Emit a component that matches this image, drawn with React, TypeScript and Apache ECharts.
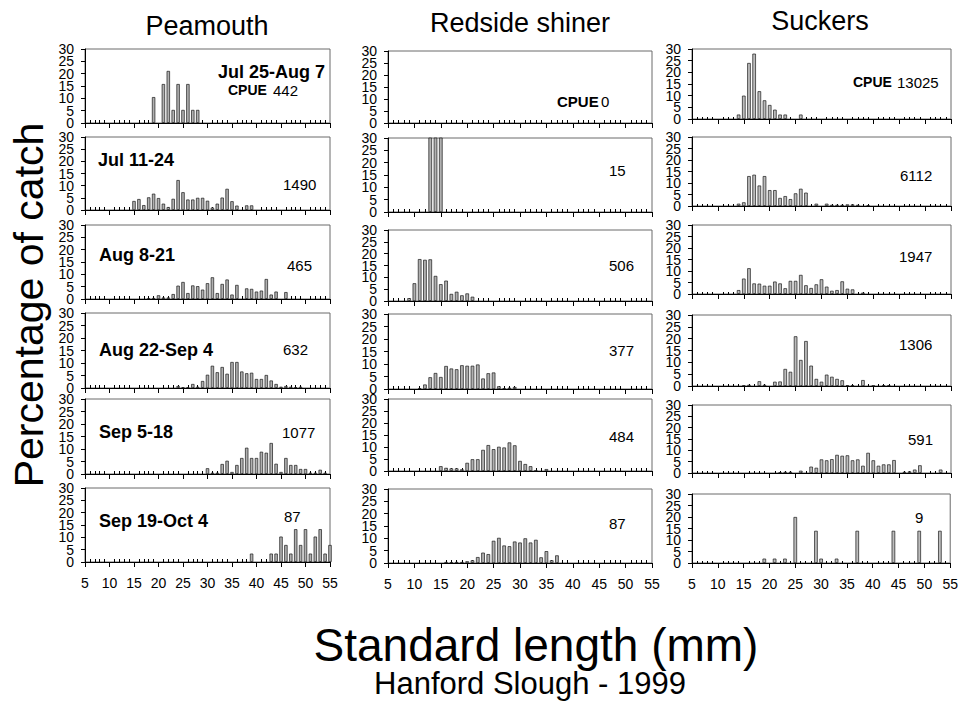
import React, { useEffect, useRef } from "react";
import * as echarts from "echarts";

// ---------------- DATA ----------------
const speciesTitles = ["Peamouth", "Redside shiner", "Suckers"];
const periodLabels = ["Jul 25-Aug 7", "Jul 11-24", "Aug 8-21", "Aug 22-Sep 4", "Sep 5-18", "Sep 19-Oct 4"];
const peamouthCPUE = ["442", "1490", "465", "632", "1077", "87"];
const redsideCPUE = ["0", "15", "506", "377", "484", "87"];
const suckersCPUE = ["13025", "6112", "1947", "1306", "591", "9"];
const lengthCategories = ["5","6","7","8","9","10","11","12","13","14","15","16","17","18","19","20","21","22","23","24","25","26","27","28","29","30","31","32","33","34","35","36","37","38","39","40","41","42","43","44","45","46","47","48","49","50","51","52","53","54","55"];
const yTickValues = [0, 5, 10, 15, 20, 25, 30];
const yLabelsEven = [0, 10, 20, 30];
const yLabelsOdd = [5, 15, 25];

// [standard length (mm), percentage of catch]
const peaJul25 = [[19,10.5],[21,15.8],[22,21.1],[23,5.3],[24,15.8],[25,5.3],[26,15.8],[27,5.3],[28,5.3]];
const peaJul11 = [[15,3.7],[16,4.5],[17,2.0],[18,5.2],[19,6.7],[20,4.9],[21,2.6],[22,1.2],[23,4.6],[24,12.3],[25,7.3],[26,4.3],[27,4.3],[28,5.0],[29,5.0],[30,3.8],[31,1.0],[32,2.6],[33,5.1],[34,8.7],[35,3.6],[36,1.8],[38,1.9],[39,1.9]];
const peaAug8 = [[18,0.2],[19,0.4],[20,1.5],[21,0.6],[22,0.6],[23,2.0],[24,5.4],[25,6.9],[26,2.4],[27,5.5],[28,5.2],[29,3.8],[30,6.4],[31,8.8],[32,2.4],[33,6.1],[34,7.9],[35,1.8],[36,5.7],[38,4.3],[39,4.1],[40,3.0],[41,3.4],[42,8.1],[43,1.8],[44,3.0],[46,2.8]];
const peaAug22 = [[24,0.8],[25,0.3],[26,0.3],[27,1.6],[28,0.5],[29,2.8],[30,5.3],[31,8.9],[32,6.3],[33,8.4],[34,5.7],[35,10.4],[36,10.4],[37,6.6],[38,5.9],[39,6.1],[40,3.6],[41,3.6],[42,5.2],[43,3.0],[44,1.6],[45,0.5],[46,0.8],[47,0.5],[48,0.3],[49,0.5]];
const peaSep5 = [[30,2.3],[31,0.5],[32,0.5],[33,4.0],[34,5.3],[35,0.8],[36,3.6],[37,6.4],[38,10.5],[39,6.4],[40,6.4],[41,8.9],[42,8.5],[43,12.4],[44,4.1],[45,0.8],[46,6.4],[47,3.6],[48,3.6],[49,2.0],[50,2.0],[51,0.5],[52,0.5],[53,1.7],[54,0.5]];
const peaSep19 = [[39,3.4],[43,3.4],[44,3.4],[45,10.3],[46,6.9],[47,3.4],[48,13.3],[49,6.9],[50,13.3],[51,3.4],[52,10.3],[53,13.3],[54,3.4],[55,6.9]];

const rsJul25: number[][] = [];
const rsJul11 = [[13,33.3],[14,33.3],[15,33.3]];
const rsAug8 = [[9,1.2],[10,7.5],[11,17.7],[12,17.4],[13,17.6],[14,10.6],[15,7.1],[16,8.6],[17,3.0],[18,3.9],[19,2.4],[20,3.2],[21,1.8]];
const rsAug22 = [[11,0.3],[12,1.8],[13,4.7],[14,6.4],[15,4.8],[16,9.2],[17,8.2],[18,7.9],[19,9.5],[20,9.3],[21,9.3],[22,9.8],[23,4.2],[24,6.3],[25,6.6],[26,1.1],[27,0.3],[28,0.5],[29,0.8]];
const rsSep5 = [[15,2.0],[16,1.3],[17,1.1],[18,1.1],[19,0.7],[20,3.4],[21,4.9],[22,4.9],[23,8.8],[24,10.8],[25,9.1],[26,10.1],[27,9.8],[28,11.9],[29,10.7],[30,4.2],[31,2.9],[32,2.0],[33,0.2],[35,0.8]];
const rsSep19 = [[16,0.4],[17,0.3],[18,0.4],[19,0.4],[20,0.7],[21,1.1],[22,2.4],[23,4.2],[24,3.6],[25,9.0],[26,10.2],[27,7.1],[28,6.8],[29,8.7],[30,8.3],[31,10.0],[32,8.3],[33,9.4],[34,2.3],[35,4.8],[36,1.1],[37,3.1]];

const skJul25 = [[14,1.9],[15,10.0],[16,24.0],[17,28.0],[18,11.9],[19,8.0],[20,6.0],[21,4.0],[22,1.9],[23,1.9],[26,1.9]];
const skJul11 = [[14,1.0],[15,1.6],[16,13.0],[17,13.6],[18,8.9],[19,13.0],[20,6.9],[21,6.9],[22,3.5],[23,4.3],[24,3.0],[25,5.5],[26,7.5],[27,5.8],[29,1.0],[31,1.0],[32,0.5],[33,0.5],[34,0.5],[35,0.7],[36,0.7],[37,0.5],[39,0.3]];
const skAug8 = [[14,1.7],[15,6.7],[16,11.2],[17,4.6],[18,4.5],[19,3.6],[20,3.6],[21,5.4],[22,4.6],[23,2.5],[24,5.7],[25,5.7],[26,8.3],[27,3.8],[28,2.6],[29,4.2],[30,6.4],[31,3.2],[32,1.4],[33,1.7],[34,5.5],[35,2.3],[36,2.0],[38,0.6]];
const skAug22 = [[15,0.3],[16,0.5],[18,2.0],[19,0.5],[21,1.8],[22,1.9],[23,7.2],[24,6.0],[25,21.0],[26,11.0],[27,19.0],[28,8.6],[29,3.0],[30,1.8],[31,4.8],[32,3.9],[33,3.0],[34,2.4],[35,0.3],[36,0.3],[38,2.5],[40,0.2],[42,0.3],[43,0.3]];
const skSep5 = [[22,0.3],[23,0.5],[24,0.5],[26,1.0],[28,2.8],[29,2.3],[30,6.0],[31,5.6],[32,6.1],[33,8.0],[34,7.6],[35,7.8],[36,5.6],[37,6.0],[38,3.2],[39,8.9],[40,5.6],[41,3.2],[42,3.8],[43,3.8],[44,5.7],[46,0.5],[47,0.7],[48,1.5],[49,3.4],[53,1.5]];
const skSep19 = [[19,1.9],[21,1.9],[23,1.9],[25,20.0],[29,14.0],[30,1.9],[33,1.9],[37,14.0],[44,14.0],[49,14.0],[53,14.0]];

// ---------------- LAYOUT ----------------
const FONT = "'Liberation Sans', Arial, Helvetica, sans-serif";
const colX = [[85, 330], [388, 652], [692, 951]];
const rowY = [
  [[49, 123], [137, 210], [225, 299], [313, 388], [399, 474], [488, 562]],
  [[51, 123], [138, 212], [230, 301], [314, 389], [399, 471], [489, 563]],
  [[49, 119], [137, 206], [225, 294], [315, 386], [405, 473], [494, 563]],
];
const titlePos = [[207, 26], [520, 23], [820, 21]];
const periodPos = [[325, 72, "right"], [98, 160, "left"], [99, 255, "left"], [99, 350, "left"], [99, 432, "left"], [99, 521, "left"]];
const cpueWordPos = [[228, 90, 14], [557, 101, 15], [853, 82, 14]];
const numberPos = [
  [[273, 90], [283, 184], [287, 265], [283, 349], [282, 432], [284, 516]],
  [[601, 101], [609, 170], [609, 265], [609, 350], [609, 436], [609, 523]],
  [[897, 82], [900, 175], [899, 256], [899, 344], [908, 439], [915, 517]],
];

export default function App() {
  const ref = useRef<HTMLDivElement>(null);
  useEffect(() => {
    if (!ref.current) return;
    const chart = echarts.init(ref.current, null, { renderer: "svg" });
    const panels = [
      [peaJul25, peaJul11, peaAug8, peaAug22, peaSep5, peaSep19],
      [rsJul25, rsJul11, rsAug8, rsAug22, rsSep5, rsSep19],
      [skJul25, skJul11, skAug8, skAug22, skSep5, skSep19],
    ];
    const cpues = [peamouthCPUE, redsideCPUE, suckersCPUE];
    const grid: any[] = [];
    const xAxis: any[] = [];
    const yAxis: any[] = [];
    const series: any[] = [];
    const graphic: any[] = [];
    const yLabelStyle = { fontSize: 14, color: "#000", margin: 11, fontFamily: FONT };
    for (let c = 0; c < 3; c++) {
      const [x0, x1] = colX[c];
      const unit = (x1 - x0) / 50;
      for (let r = 0; r < 6; r++) {
        const i = c * 6 + r;
        const [y0, y1] = rowY[c][r];
        grid.push({
          left: x0, top: y0, width: x1 - x0, height: y1 - y0,
          show: true, borderColor: "#6a6a6a", borderWidth: 1, backgroundColor: "transparent",
        });
        xAxis.push({
          type: "value", gridIndex: i, min: 5, max: 55, interval: 5, position: "bottom",
          axisLine: { show: true, onZero: false, lineStyle: { color: "#000", width: 1 } },
          axisTick: { show: true, inside: false, length: 5, lineStyle: { color: "#000" } },
          axisLabel: { show: r === 5, fontSize: 14, color: "#000", margin: 14, fontFamily: FONT, showMinLabel: true, showMaxLabel: true },
          splitLine: { show: false },
        });
        xAxis.push({
          type: "category", gridIndex: i, data: lengthCategories, boundaryGap: false, position: "bottom",
          axisLine: { show: false },
          axisTick: { show: true, inside: true, length: c === 2 ? 2 : 3, interval: (idx: number) => idx % 5 !== 0, lineStyle: { color: "#000" } },
          axisLabel: { show: false },
          splitLine: { show: false },
        });
        yAxis.push({
          type: "value", gridIndex: i, min: 0, max: 30, interval: 5, position: "left",
          axisLine: { show: true, onZero: false, lineStyle: { color: "#000", width: 1 } },
          axisTick: { show: true, length: 4, customValues: yTickValues, lineStyle: { color: "#000" } },
          axisLabel: { ...yLabelStyle, customValues: yLabelsEven },
          splitLine: { show: false },
        });
        yAxis.push({
          type: "value", gridIndex: i, min: 0, max: 30, interval: 5, position: "left", offset: 0,
          axisLine: { show: false },
          axisTick: { show: false },
          axisLabel: { ...yLabelStyle, customValues: yLabelsOdd },
          splitLine: { show: false },
        });
        series.push({
          type: "bar", xAxisIndex: 2 * i, yAxisIndex: 2 * i, data: panels[c][r],
          barWidth: unit * 0.68, silent: true,
          itemStyle: { color: c === 2 ? "#bcbcbc" : "#b0b0b0", borderColor: "#1a1a1a", borderWidth: 0.7 },
        });
        const [nx, ny] = numberPos[c][r];
        graphic.push({
          type: "text", x: nx, y: ny, silent: true,
          style: { text: cpues[c][r], fontSize: 15, fontFamily: FONT, fill: "#000", align: "left", verticalAlign: "middle" },
        });
      }
      graphic.push({
        type: "text", x: titlePos[c][0], y: titlePos[c][1], silent: true,
        style: { text: speciesTitles[c], fontSize: 27, fontFamily: FONT, fill: "#000", align: "center", verticalAlign: "middle" },
      });
      const [cx, cy, cs] = cpueWordPos[c];
      graphic.push({
        type: "text", x: cx, y: cy, silent: true,
        style: { text: "CPUE", fontSize: cs, fontWeight: "bold", fontFamily: FONT, fill: "#000", align: "left", verticalAlign: "middle" },
      });
    }
    for (let r = 0; r < 6; r++) {
      const [px, py, al] = periodPos[r] as any;
      graphic.push({
        type: "text", x: px, y: py, silent: true,
        style: { text: periodLabels[r], fontSize: 18, fontWeight: "bold", fontFamily: FONT, fill: "#000", align: al, verticalAlign: "middle" },
      });
    }
    graphic.push({
      type: "text", x: 29, y: 305, rotation: Math.PI / 2, silent: true,
      style: { text: "Percentage of catch", fontSize: 41, fontFamily: FONT, fill: "#000", align: "center", verticalAlign: "middle" },
    });
    graphic.push({
      type: "text", x: 536, y: 645, silent: true,
      style: { text: "Standard length (mm)", fontSize: 46, fontFamily: FONT, fill: "#000", align: "center", verticalAlign: "middle" },
    });
    graphic.push({
      type: "text", x: 530, y: 683, silent: true,
      style: { text: "Hanford Slough - 1999", fontSize: 31, fontFamily: FONT, fill: "#000", align: "center", verticalAlign: "middle" },
    });

    chart.setOption({
      animation: false,
      backgroundColor: "#ffffff",
      grid, xAxis, yAxis, series, graphic,
    });
    return () => chart.dispose();
  }, []);
  return <div ref={ref} style={{ position: "fixed", left: 0, top: 0, width: 961, height: 716 }} />;
}
